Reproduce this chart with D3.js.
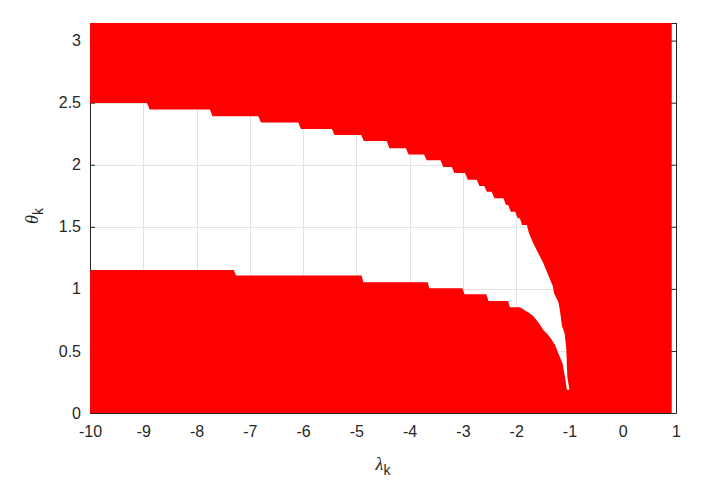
<!DOCTYPE html>
<html>
<head>
<meta charset="utf-8">
<script src="https://cdn.jsdelivr.net/npm/d3@7"></script>
<style>
  body { margin: 0; background: #fff; }
  .axis text { font-family: "Liberation Sans", Arial, sans-serif; font-size: 16px; fill: #262626; }
  .axis path, .axis line { stroke: #262626; }
</style>
</head>
<body>
<div id="chart"></div>
<script>
// upper edge of the white band, left to right
var upperLambda = [-10, -8.93, -8.88, -7.75, -7.70, -6.84, -6.79, -6.09, -6.04, -5.46, -5.41,
  -4.91, -4.86, -4.43, -4.38, -4.07, -4.02, -3.73, -3.68, -3.42, -3.37, -3.21, -3.16,
  -2.96, -2.91, -2.74, -2.69, -2.60, -2.55, -2.46, -2.41, -2.24, -2.19, -2.15, -2.10,
  -2.02, -1.97, -1.93, -1.89, -1.80, -1.76, -1.68, -1.49, -1.31, -1.29, -1.21, -1.18,
  -1.14, -1.09, -1.06, -1.04, -1.00];
var upperTheta = [2.498, 2.498, 2.444, 2.444, 2.391, 2.391, 2.341, 2.341, 2.288, 2.288, 2.240,
  2.240, 2.192, 2.192, 2.133, 2.133, 2.083, 2.083, 2.035, 2.035, 1.982, 1.982, 1.934,
  1.934, 1.878, 1.878, 1.829, 1.829, 1.783, 1.783, 1.730, 1.730, 1.676, 1.676, 1.622,
  1.622, 1.569, 1.569, 1.515, 1.515, 1.448, 1.367, 1.206, 1.018, 0.965, 0.897, 0.830,
  0.700, 0.640, 0.521, 0.293, 0.185];

// lower edge, right (tip) to left
var lowerLambda = [-1.05, -1.08, -1.13, -1.21, -1.27, -1.33, -1.40, -1.49, -1.55, -1.62, -1.68, -1.75,
  -1.90, -1.93, -2.12, -2.15, -2.52, -2.56, -2.97, -3.01, -3.63, -3.66, -4.87, -4.90,
  -7.26, -7.30, -10];
var lowerTheta = [0.190, 0.278, 0.400, 0.481, 0.548, 0.588, 0.629, 0.669, 0.709, 0.749, 0.782, 0.803,
  0.844, 0.852, 0.852, 0.902, 0.902, 0.956, 0.956, 1.005, 1.005, 1.053, 1.053, 1.108,
  1.108, 1.152, 1.152];

var regionLambda = [-10, 0.92]; // extent of the red region
var xTicks = [-10, -9, -8, -7, -6, -5, -4, -3, -2, -1, 0, 1];
var yTicks = [0, 0.5, 1, 1.5, 2, 2.5, 3];

var margin = { top: 23, right: 30, bottom: 85, left: 90 };
var w = 706 - margin.left - margin.right;
var h = 498 - margin.top - margin.bottom;

var xScale = d3.scaleLinear().domain([-10, 1]).range([0, w]);
var yScale = d3.scaleLinear().domain([0, Math.PI]).range([h, 0]);

var svg = d3.select("#chart").append("svg")
  .attr("width", 706).attr("height", 498)
  .append("g")
  .attr("transform", "translate(" + margin.left + "," + margin.top + ")");

// grid (below the fill)
svg.append("g").selectAll("line").data(xTicks).enter().append("line")
  .attr("x1", function (d) { return xScale(d) + 0.5; }).attr("x2", function (d) { return xScale(d) + 0.5; })
  .attr("y1", 0).attr("y2", h)
  .attr("stroke", "#e3e3e3").attr("shape-rendering", "crispEdges");
svg.append("g").selectAll("line").data(yTicks).enter().append("line")
  .attr("y1", function (d) { return yScale(d) + 0.5; }).attr("y2", function (d) { return yScale(d) + 0.5; })
  .attr("x1", 0).attr("x2", w)
  .attr("stroke", "#e3e3e3").attr("shape-rendering", "crispEdges");

// axes go under the fill too (matlab layer bottom), ticks inward
var fmt = function (d) { return String(d); };
var xAxis = d3.axisBottom(xScale).tickValues(xTicks).tickSize(-5).tickSizeOuter(0).tickPadding(13).tickFormat(fmt);
var yAxis = d3.axisLeft(yScale).tickValues(yTicks).tickSize(-5).tickSizeOuter(0).tickPadding(9).tickFormat(fmt);

svg.append("g").attr("class", "axis")
  .attr("transform", "translate(0," + h + ")")
  .call(xAxis);
svg.append("g").attr("class", "axis")
  .call(yAxis);
svg.append("g").attr("class", "axis")
  .attr("transform", "translate(" + w + ",0)")
  .call(d3.axisRight(yScale).tickValues(yTicks).tickSize(-5).tickSizeOuter(0).tickFormat(""));
svg.append("g").attr("class", "axis")
  .call(d3.axisTop(xScale).tickValues(xTicks).tickSize(-5).tickSizeOuter(0).tickFormat(""));

// red region with the white band cut out
var p = d3.path();
p.moveTo(xScale(regionLambda[0]), yScale(0));
p.lineTo(xScale(regionLambda[1]), yScale(0));
p.lineTo(xScale(regionLambda[1]), yScale(Math.PI));
p.lineTo(xScale(regionLambda[0]), yScale(Math.PI));
p.closePath();
upperLambda.forEach(function (l, i) {
  if (i === 0) p.moveTo(xScale(l), yScale(upperTheta[i]));
  else p.lineTo(xScale(l), yScale(upperTheta[i]));
});
lowerLambda.forEach(function (l, i) {
  p.lineTo(xScale(l), yScale(lowerTheta[i]));
});
p.closePath();

svg.append("path")
  .attr("d", p.toString())
  .attr("fill", "#ff0000")
  .attr("fill-rule", "evenodd");

// axis labels
var xl = svg.append("text")
  .attr("x", w / 2)
  .attr("y", h + 57)
  .attr("text-anchor", "middle")
  .style("font-family", "'Liberation Serif', 'Times New Roman', serif")
  .style("font-size", "18px")
  .style("fill", "#262626");
xl.append("tspan").style("font-style", "italic").text("λ");
xl.append("tspan").attr("dy", 5).style("font-size", "14px")
  .style("font-family", "'Liberation Sans', Arial, sans-serif").text("k");

var yl = svg.append("text")
  .attr("transform", "translate(-52," + (h / 2 - 2) + ") rotate(-90)")
  .attr("text-anchor", "middle")
  .style("font-family", "'Liberation Serif', 'Times New Roman', serif")
  .style("font-size", "18px")
  .style("fill", "#262626");
yl.append("tspan").style("font-style", "italic").text("θ");
yl.append("tspan").attr("dy", 5).style("font-size", "14px")
  .style("font-family", "'Liberation Sans', Arial, sans-serif").text("k");
</script>
</body>
</html>
